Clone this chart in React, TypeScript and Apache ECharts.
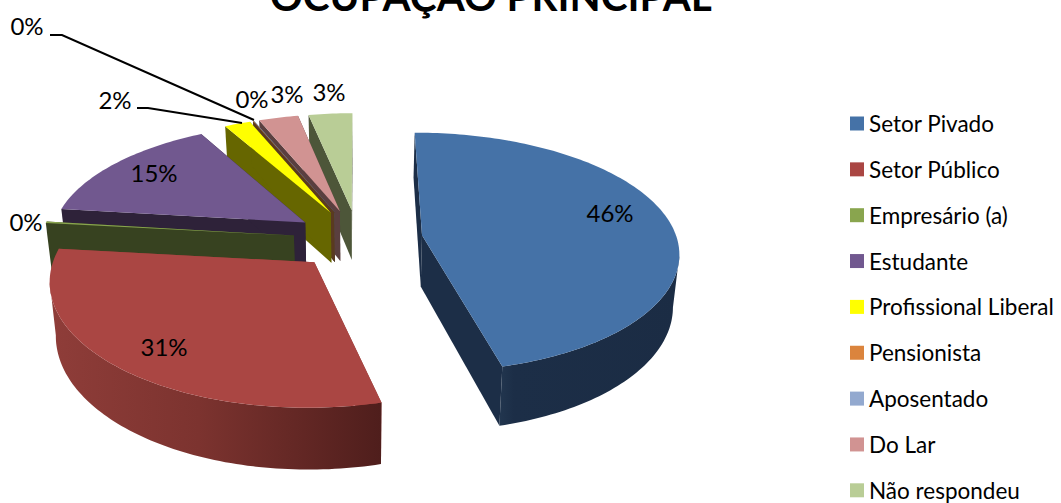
import React, { useEffect, useRef } from "react";
import * as echarts from "echarts";

const categories = ["Setor Pivado", "Setor Público", "Empresário (a)", "Estudante", "Profissional Liberal", "Pensionista", "Aposentado", "Do Lar", "Não respondeu"];
const values = [46.1, 30.7, 0.2, 15.0, 1.9, 0.04, 0.04, 2.9, 3.2];
const topColors = ["#4572A7", "#AA4643", "#89A54E", "#71588F", "#FFFF00", "#DB843D", "#93A9CF", "#D19392", "#B9CD96"];
const wallColors = ["#1c2e47", "#8d3c38", "#374220", "#2e2239", "#666600", "#5a3a20", "#4d5a73", "#5a3f3f", "#4d5639"];
const paintOrder = [8, 7, 6, 5, 4, 3, 2, 0, 1];

// [index of value, x, y] of each percentage label
const labelPlaces = [[0, 610, 212], [1, 164, 346], [2, 26, 221], [3, 154, 172], [4, 115, 99], [5, 27, 25], [6, 252, 98], [7, 287, 93], [8, 329, 91]];
const leaderLines = [
  [[50, 35], [62, 35], [254, 120]],
  [[137, 108], [148, 108], [242, 123]],
];

const VX = 358, CY = 239, RX = 255, RY = 118, DEPTH = 51.5, EXPLODE = 0.254, KX = 0.13, KY = 0.14;
const total = values.reduce((a, b) => a + b, 0);

function project(X: number, Y: number, low: boolean): number[] {
  const px = 1 / (1 - KX * Y);
  const py = 1 / (1 - KY * Y);
  let x = VX + RX * X * px;
  let y = CY + RY * Y * py;
  if (low) {
    y += DEPTH * py;
    x = VX + (x - VX) * 0.98;
  }
  return [x, y];
}

function wallFill(i: number): any {
  if (i === 1) {
    return new echarts.graphic.LinearGradient(0, 0, 1, 0, [
      { offset: 0, color: "#8f3d39" },
      { offset: 0.45, color: "#7c332f" },
      { offset: 1, color: "#4f1e1c" },
    ]);
  }
  if (i === 0) {
    return new echarts.graphic.LinearGradient(0, 0, 1, 0, [
      { offset: 0, color: "#22364f" },
      { offset: 0.08, color: "#1c2e47" },
      { offset: 1, color: "#1b2c44" },
    ]);
  }
  return wallColors[i];
}

function sliceShapes(i: number) {
  const before = values.slice(0, i).reduce((a, b) => a + b, 0);
  const a0 = (before / total) * Math.PI * 2;
  const a1 = ((before + values[i]) / total) * Math.PI * 2;
  const mid = (a0 + a1) / 2;
  const ox = EXPLODE * Math.sin(mid);
  const oy = -EXPLODE * Math.cos(mid);
  const steps = Math.max(2, Math.ceil((a1 - a0) / 0.02));
  const topArc: number[][] = [];
  const lowArc: number[][] = [];
  for (let s = 0; s <= steps; s++) {
    const t = a0 + ((a1 - a0) * s) / steps;
    topArc.push(project(ox + Math.sin(t), oy - Math.cos(t), false));
    lowArc.push(project(ox + Math.sin(t), oy - Math.cos(t), true));
  }
  const apexTop = project(ox, oy, false);
  const apexLow = project(ox, oy, true);
  const edge = (idx: number) => [apexTop, topArc[idx], lowArc[idx], apexLow];
  const poly = (points: number[][], fill: any) => ({
    type: "polygon",
    silent: true,
    shape: { points },
    style: { fill, stroke: null },
  });
  // the round outer wall shows only on the part of the arc that runs right-to-left, towards the viewer
  let first = -1;
  let last = -1;
  for (let s = 0; s < steps; s++) {
    if (topArc[s + 1][0] < topArc[s][0]) {
      if (first < 0) first = s;
      last = s + 1;
    }
  }
  const children: any[] = [
    poly(edge(0), wallColors[i]),
    poly(edge(steps), i === 1 ? "#8f3d39" : wallColors[i]),
  ];
  if (first >= 0) {
    children.push(
      poly([...topArc.slice(first, last + 1), ...lowArc.slice(first, last + 1).reverse()], wallFill(i))
    );
  }
  children.push(poly([apexTop, ...topArc], topColors[i]));
  return { type: "group", children };
}

export default function App() {
  const ref = useRef<HTMLDivElement>(null);
  useEffect(() => {
    document.body.style.margin = "0";
    const chart = echarts.init(ref.current!, null, { renderer: "svg" });
    chart.setOption({
      animation: false,
      backgroundColor: "#ffffff",
      title: {
        text: "OCUPAÇÃO PRINCIPAL",
        left: 270,
        top: -25,
        padding: 0,
        textStyle: { fontFamily: "Lato", fontWeight: "bold", fontSize: 40.5, color: "#000000" },
      },
      legend: {
        orient: "vertical",
        left: 850,
        top: 112,
        icon: "rect",
        itemWidth: 14,
        itemHeight: 14,
        itemGap: 22.85,
        padding: 0,
        data: categories,
        textStyle: { fontFamily: "Lato", fontSize: 22.5, color: "#000000" },
      },
      graphic: [
        ...labelPlaces.map(([i, x, y]) => ({
          type: "text",
          x,
          y,
          z: 100,
          style: {
            text: `${Math.round((values[i] / total) * 100)}%`,
            fontFamily: "Lato",
            fontSize: 24,
            fill: "#000000",
            align: "center",
            verticalAlign: "middle",
          },
        })),
        ...leaderLines.map((points) => ({
          type: "polyline",
          z: 100,
          shape: { points },
          style: { stroke: "#000000", lineWidth: 2, fill: null },
        })),
      ],
      series: paintOrder.map((i) => ({
        type: "custom",
        name: categories[i],
        coordinateSystem: "none",
        silent: true,
        itemStyle: { color: topColors[i] },
        data: [[values[i]]],
        renderItem: () => sliceShapes(i),
      })),
    });
    return () => chart.dispose();
  }, []);
  return <div ref={ref} style={{ width: 1061, height: 503 }} />;
}
